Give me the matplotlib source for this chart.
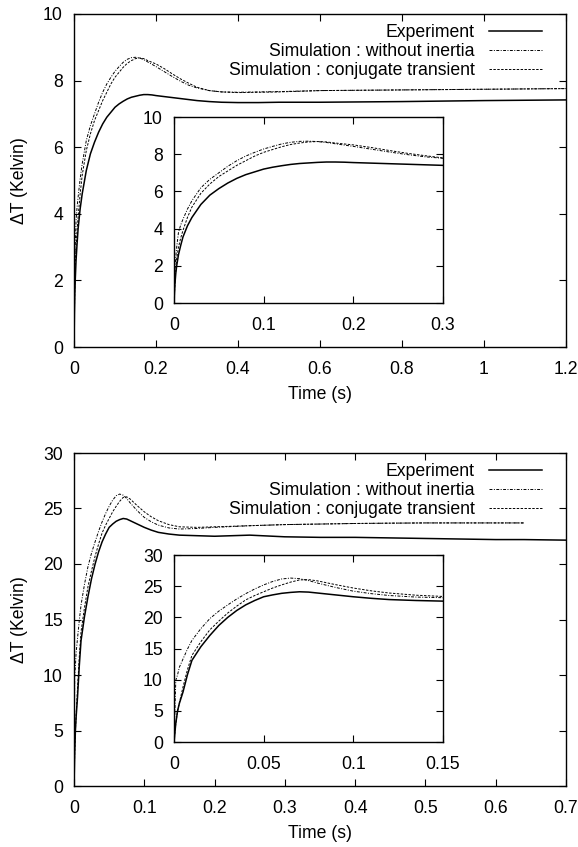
import matplotlib
matplotlib.use("Agg")
import matplotlib.pyplot as plt
from matplotlib import ticker

plt.rcParams['font.family'] = ['Liberation Sans', 'DejaVu Sans']

FONT_SIZE = 12.7
FIG_W, FIG_H = 578, 847

# ---- top case : time (s) and temperature rise (K) ----
top_t = [0, 0.001, 0.002, 0.003, 0.005, 0.0075, 0.01, 0.015, 0.02, 0.03,
         0.04, 0.05, 0.06, 0.07, 0.08, 0.09, 0.1, 0.11, 0.12, 0.13,
         0.14, 0.15, 0.16, 0.17, 0.18, 0.19, 0.2, 0.22, 0.24, 0.26,
         0.28, 0.3, 0.33, 0.36, 0.4, 0.45, 0.5, 0.6, 0.8, 1.0, 1.2]
top_exp_dt = [0, 1.0, 1.6, 2.0, 2.6, 3.1, 3.55, 4.15, 4.6, 5.3,
              5.8, 6.15, 6.45, 6.7, 6.9, 7.05, 7.2, 7.3, 7.38, 7.45,
              7.5, 7.53, 7.56, 7.58, 7.58, 7.57, 7.55, 7.52, 7.49, 7.46,
              7.43, 7.4, 7.37, 7.35, 7.34, 7.34, 7.35, 7.35, 7.37, 7.4, 7.42]
top_noin_dt = [0, 1.8, 2.5, 3.0, 3.8, 4.2, 4.5, 5.05, 5.5, 6.2,
               6.65, 7.0, 7.35, 7.65, 7.9, 8.1, 8.28, 8.42, 8.55, 8.64,
               8.69, 8.7, 8.68, 8.63, 8.56, 8.49, 8.42, 8.27, 8.12, 7.98,
               7.86, 7.78, 7.7, 7.66, 7.65, 7.66, 7.67, 7.7, 7.72, 7.74, 7.76]
top_conj_dt = [0, 1.0, 1.8, 2.4, 3.0, 3.5, 3.9, 4.6, 5.16, 5.9,
               6.4, 6.8, 7.1, 7.4, 7.65, 7.9, 8.1, 8.25, 8.4, 8.52,
               8.6, 8.66, 8.68, 8.66, 8.6, 8.55, 8.5, 8.36, 8.2, 8.05,
               7.92, 7.8, 7.7, 7.66, 7.64, 7.65, 7.66, 7.7, 7.72, 7.74, 7.76]

# ---- bottom case (simulations stop at 0.64 s) ----
bot_t = [0, 0.001, 0.002, 0.003, 0.005, 0.0075, 0.01, 0.015, 0.02, 0.025,
         0.03, 0.035, 0.04, 0.045, 0.05, 0.055, 0.06, 0.065, 0.07, 0.075,
         0.08, 0.09, 0.1, 0.11, 0.12, 0.135, 0.15, 0.175, 0.2, 0.25,
         0.3, 0.35, 0.4, 0.45, 0.5, 0.55, 0.6, 0.64, 0.7]
bot_exp_dt = [0, 3.0, 5.0, 6.2, 8.0, 10.8, 13.1, 15.3, 17.1, 18.7,
              20.0, 21.1, 22.0, 22.7, 23.3, 23.6, 23.85, 24.0, 24.1, 24.05,
              23.9, 23.6, 23.3, 23.05, 22.85, 22.7, 22.6, 22.55, 22.5, 22.6,
              22.45, 22.4, 22.4, 22.35, 22.3, 22.25, 22.2, 22.2, 22.15]
bot_noin_dt = [0, 9.9, 10.8, 12.0, 13.3, 14.9, 16.3, 18.2, 19.8, 21.0,
               22.0, 22.95, 23.8, 24.55, 25.2, 25.75, 26.15, 26.3, 26.2, 25.9,
               25.5, 24.8, 24.2, 23.8, 23.5, 23.25, 23.15, 23.2, 23.3, 23.45,
               23.55, 23.6, 23.65, 23.68, 23.7, 23.7, 23.7, 23.7]
bot_conj_dt = [0, 3.0, 5.0, 6.3, 8.8, 11.6, 13.9, 16.1, 18.0, 19.4,
               20.7, 21.8, 22.8, 23.5, 24.1, 24.7, 25.2, 25.65, 26.0, 26.05,
               25.85, 25.25, 24.7, 24.25, 23.9, 23.55, 23.35, 23.3, 23.35, 23.45,
               23.55, 23.6, 23.65, 23.68, 23.7, 23.7, 23.7, 23.7]

LABELS = ["Experiment", "Simulation : without inertia", "Simulation : conjugate transient"]


def px_rect(left, top, right, bottom):
    # pixel box -> figure fraction rect
    return [left / FIG_W, 1 - bottom / FIG_H, (right - left) / FIG_W, (bottom - top) / FIG_H]


def style_axes(axes):
    axes.tick_params(direction='in', top=True, right=True, length=5, width=0.8,
                     labelsize=FONT_SIZE)
    axes.tick_params(axis='x', pad=10)
    axes.tick_params(axis='y', pad=8)
    for spine in axes.spines.values():
        spine.set_linewidth(1.0)


def draw_curves(axes, series):
    (exp_t, exp_dt), (noin_t, noin_dt), (conj_t, conj_dt) = series
    axes.plot(exp_t, exp_dt, color='black', lw=1.1, label=LABELS[0])
    axes.plot(noin_t, noin_dt, color='black', lw=0.7, dashes=(3, 1.5, 1, 1.5), label=LABELS[1])
    axes.plot(conj_t, conj_dt, color='black', lw=0.7, dashes=(2.5, 1.5), label=LABELS[2])


def drawPanel(fig, main_box, inset_box, series, xmax, xstep, ymax, ystep, in_xmax, in_xstep):
    axes = fig.add_axes(px_rect(*main_box))
    draw_curves(axes, series)
    axes.set_xlim(0, xmax)
    axes.set_ylim(0, ymax)
    axes.xaxis.set_major_locator(ticker.MultipleLocator(xstep))
    axes.yaxis.set_major_locator(ticker.MultipleLocator(ystep))
    axes.xaxis.set_major_formatter(ticker.FormatStrFormatter('%g'))
    style_axes(axes)
    axes.set_xlabel('Time (s)', fontsize=FONT_SIZE)
    axes.set_ylabel('\u0394T (Kelvin)', fontsize=FONT_SIZE)
    axes.xaxis.set_label_coords(0.5, -0.118)
    axes.yaxis.set_label_coords(-0.094, 0.5)

    axes.legend(loc='upper right', bbox_to_anchor=(0.965, 0.99), frameon=False,
                markerfirst=False, fontsize=FONT_SIZE, handlelength=3.0,
                handletextpad=0.8, labelspacing=0.1, borderaxespad=0.0)

    # inset zoom on the first part of the transient
    inset = fig.add_axes(px_rect(*inset_box))
    draw_curves(inset, series)
    inset.set_xlim(0, in_xmax)
    inset.set_ylim(0, ymax)
    inset.xaxis.set_major_locator(ticker.MultipleLocator(in_xstep))
    inset.yaxis.set_major_locator(ticker.MultipleLocator(ystep))
    inset.xaxis.set_major_formatter(ticker.FormatStrFormatter('%g'))
    style_axes(inset)


def main():
    fig = plt.figure(figsize=(FIG_W / 100, FIG_H / 100), dpi=100)

    drawPanel(fig, (74, 14, 566, 347), (174, 117, 443, 303),
              [(top_t, top_exp_dt), (top_t, top_noin_dt), (top_t, top_conj_dt)],
              1.2, 0.2, 10, 2, 0.3, 0.1)

    sim_t = bot_t[:len(bot_noin_dt)]
    drawPanel(fig, (74, 453, 566, 786), (174, 555, 443, 742),
              [(bot_t, bot_exp_dt), (sim_t, bot_noin_dt), (sim_t, bot_conj_dt)],
              0.7, 0.1, 30, 5, 0.15, 0.05)

    plt.savefig('out.png', dpi=100)
    plt.close()


if __name__ == '__main__':
    main()
